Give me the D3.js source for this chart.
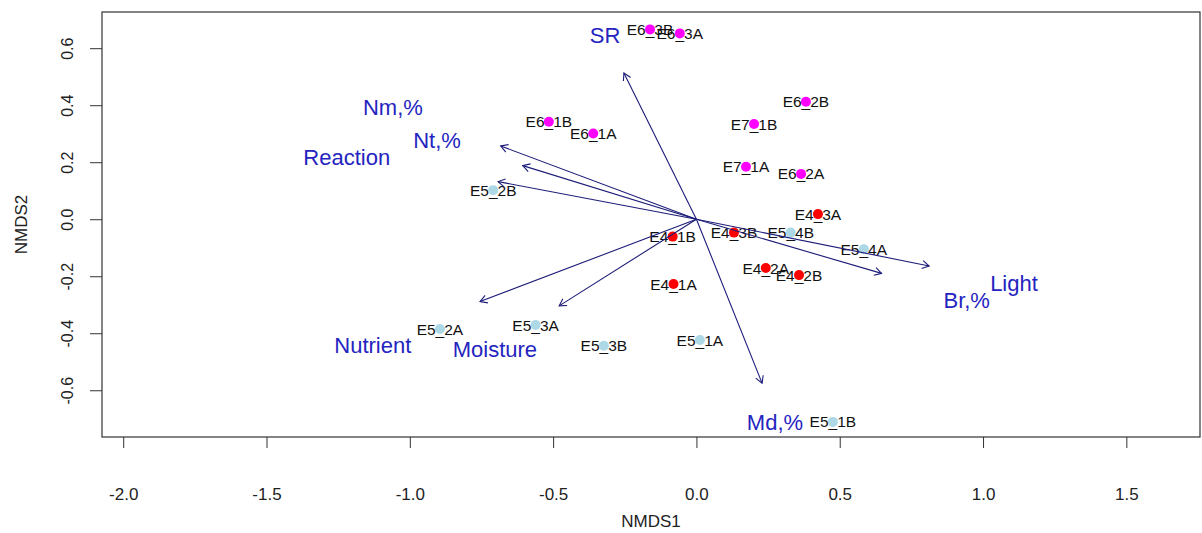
<!DOCTYPE html>
<html>
<head>
<meta charset="utf-8">
<script src="https://cdn.jsdelivr.net/npm/d3@7"></script>
<style>
  html, body { margin: 0; padding: 0; background: #fff; }
  svg { display: block; font-family: "Liberation Sans", Arial, sans-serif; }
</style>
</head>
<body>
<svg id="chart" width="1202" height="533"></svg>
<script>
// Site scores (NMDS1, NMDS2)
const siteNames = ["E6_3B","E6_3A","E6_2B","E7_1B","E6_1B","E6_1A","E7_1A","E6_2A",
                   "E5_2B","E4_3A","E4_3B","E5_4B","E5_4A","E4_1B","E4_2A","E4_2B",
                   "E4_1A","E5_2A","E5_3A","E5_3B","E5_1A","E5_1B"];
const siteX = [-0.162,-0.058,0.382,0.201,-0.515,-0.360,0.173,0.365,
               -0.709,0.424,0.131,0.329,0.584,-0.083,0.242,0.358,
               -0.080,-0.895,-0.561,-0.323,0.012,0.476];
const siteY = [0.666,0.652,0.412,0.334,0.342,0.301,0.184,0.159,
               0.102,0.018,-0.047,-0.047,-0.105,-0.061,-0.171,-0.196,
               -0.227,-0.385,-0.371,-0.444,-0.424,-0.711];
const siteGroup = ["E6","E6","E6","E7","E6","E6","E7","E6",
                   "E5","E4","E4","E5","E5","E4","E4","E4",
                   "E4","E5","E5","E5","E5","E5"];

// Fitted environmental vectors: arrow tips and label anchors
const envNames = ["SR","Nm,%","Nt,%","Reaction","Light","Br,%","Md,%","Nutrient","Moisture"];
const envX = [-0.253,-0.683,-0.606,-0.692,0.812,0.646,0.229,-0.755,-0.479];
const envY = [0.513,0.257,0.188,0.132,-0.164,-0.190,-0.575,-0.289,-0.304];
const envLabelX = [-0.319,-1.059,-0.905,-1.220,1.108,0.943,0.274,-1.129,-0.703];
const envLabelY = [0.646,0.395,0.278,0.218,-0.224,-0.284,-0.711,-0.441,-0.455];

// Axis ticks
const xTicks = [-2.0,-1.5,-1.0,-0.5,0.0,0.5,1.0,1.5];
const yTicks = [-0.6,-0.4,-0.2,0.0,0.2,0.4,0.6];

const groupColor = { E4: "#ff0000", E5: "#add8e6", E6: "#ff00ff", E7: "#ff00ff" };

const box = { left: 102, right: 1200, top: 12, bottom: 437 };
const svg = d3.select("#chart");

const x = d3.scaleLinear().domain([-2.074, 1.757]).range([box.left, box.right]);
const y = d3.scaleLinear().domain([-0.764, 0.727]).range([box.bottom, box.top]);

// Axes
const xAxis = d3.axisBottom(x).tickValues(xTicks).tickFormat(d3.format(".1f")).tickSize(11).tickPadding(0);
const gx = svg.append("g").attr("transform", `translate(0,${box.bottom})`).call(xAxis);
gx.select(".domain").remove();
gx.selectAll(".tick line").attr("stroke", "#333");
gx.selectAll(".tick text").attr("font-size", 17).attr("fill", "#222")
  .attr("y", 63).attr("dy", 0).text(d => d3.format(".1f")(d).replace("−", "-"));

const yAxis = d3.axisLeft(y).tickValues(yTicks).tickSize(12);
const gy = svg.append("g").attr("transform", `translate(${box.left},0)`).call(yAxis);
gy.select(".domain").remove();
gy.selectAll(".tick line").attr("stroke", "#333");
gy.selectAll(".tick text")
  .attr("font-size", 16).attr("fill", "#222")
  .attr("x", null).attr("dy", null)
  .attr("text-anchor", "middle")
  .attr("transform", "translate(-29,0) rotate(-90)")
  .text(d => d3.format(".1f")(d).replace("−", "-"));

// Frame
svg.append("rect")
  .attr("x", box.left).attr("y", box.top)
  .attr("width", box.right - box.left).attr("height", box.bottom - box.top)
  .attr("fill", "none").attr("stroke", "#333").attr("stroke-width", 1.2);

// Axis titles
svg.append("text").attr("x", (box.left + box.right) / 2).attr("y", 527)
  .attr("text-anchor", "middle").attr("font-size", 17).attr("fill", "#222").text("NMDS1");
svg.append("text").attr("transform", `translate(27,${(box.top + box.bottom) / 2}) rotate(-90)`)
  .attr("text-anchor", "middle").attr("font-size", 17).attr("fill", "#222").text("NMDS2");

// Site labels and points
const sites = siteNames.map((n, i) => ({ name: n, x: siteX[i], y: siteY[i], g: siteGroup[i] }));
const plot = svg.append("g");
plot.selectAll("text.site").data(sites).join("text")
  .attr("class", "site")
  .attr("x", d => x(d.x)).attr("y", d => y(d.y))
  .attr("dy", "0.36em").attr("text-anchor", "middle")
  .attr("font-size", 15.5).attr("fill", "#111").text(d => d.name);
plot.selectAll("circle").data(sites).join("circle")
  .attr("cx", d => x(d.x)).attr("cy", d => y(d.y)).attr("r", 5)
  .attr("fill", d => groupColor[d.g]);

// Environmental vectors
const env = envNames.map((n, i) => ({ name: n, x: envX[i], y: envY[i], lx: envLabelX[i], ly: envLabelY[i] }));
const arrowColor = "#1c1c78";
const ag = svg.append("g").attr("stroke", arrowColor).attr("stroke-width", 1.1).attr("fill", "none");
env.forEach(d => {
  const x0 = x(0), y0 = y(0), x1 = x(d.x), y1 = y(d.y);
  ag.append("line").attr("x1", x0).attr("y1", y0).attr("x2", x1).attr("y2", y1);
  const ang = Math.atan2(y1 - y0, x1 - x0);
  const L = 8, spread = Math.PI / 6;
  const p1 = [x1 - L * Math.cos(ang - spread), y1 - L * Math.sin(ang - spread)];
  const p2 = [x1 - L * Math.cos(ang + spread), y1 - L * Math.sin(ang + spread)];
  ag.append("path").attr("d", `M${p1[0]},${p1[1]}L${x1},${y1}L${p2[0]},${p2[1]}`);
});
svg.append("g").selectAll("text").data(env).join("text")
  .attr("x", d => x(d.lx)).attr("y", d => y(d.ly))
  .attr("dy", "0.36em").attr("text-anchor", "middle")
  .attr("font-size", 22).attr("fill", "#2424c0").text(d => d.name);
</script>
</body>
</html>
